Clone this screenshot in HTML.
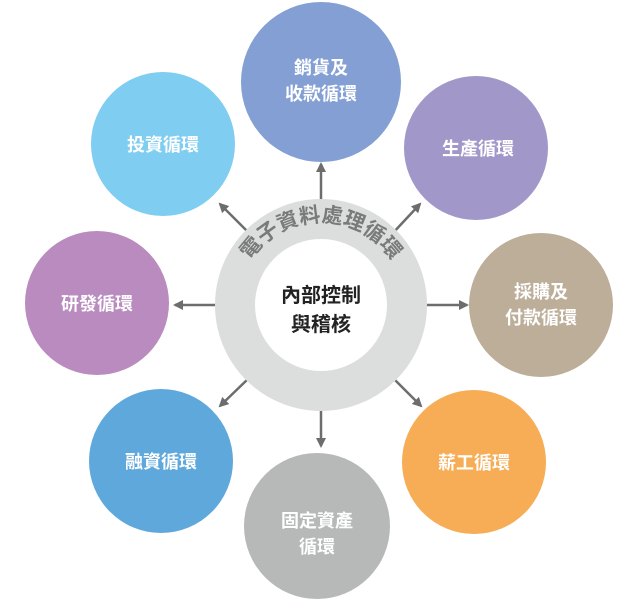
<!DOCTYPE html>
<html><head><meta charset="utf-8"><style>
html,body{margin:0;padding:0;background:#fff;}
svg{display:block;}
text{font-family:"Liberation Sans","Noto Sans CJK TC",sans-serif;}
.w{fill:#fff;font-size:18px;font-weight:bold;text-anchor:middle;}
</style></head><body>
<svg width="617" height="603" viewBox="0 0 617 603" xmlns="http://www.w3.org/2000/svg">
<defs>
<marker id="a" markerWidth="10" markerHeight="10" refX="8" refY="5" orient="auto" markerUnits="userSpaceOnUse" viewBox="0 0 10 10">
<path d="M0,0 L10,5 L0,10 z" fill="#6d6d6d"/></marker>
<path id="arc" d="M 252 354 A 84 84 0 1 1 390 354"/>
</defs>
<g stroke="#6d6d6d" stroke-width="2.5" fill="none">
<line x1="321" y1="205" x2="321" y2="164" marker-end="url(#a)"/>
<line x1="392" y1="234" x2="420" y2="204" marker-end="url(#a)"/>
<line x1="426" y1="305" x2="467" y2="305" marker-end="url(#a)"/>
<line x1="392" y1="377" x2="421" y2="406" marker-end="url(#a)"/>
<line x1="321" y1="405" x2="321" y2="446" marker-end="url(#a)"/>
<line x1="250" y1="377" x2="220" y2="406" marker-end="url(#a)"/>
<line x1="216" y1="305" x2="175" y2="305" marker-end="url(#a)"/>
<line x1="250" y1="234" x2="220" y2="204" marker-end="url(#a)"/>
</g>
<circle cx="321" cy="82" r="80" fill="#839fd3"/>
<circle cx="476" cy="148" r="72" fill="#a297c9"/>
<circle cx="541" cy="305" r="72" fill="#bcae98"/>
<circle cx="474" cy="462" r="72" fill="#f6ad55"/>
<circle cx="317" cy="526" r="73" fill="#b7b8b8"/>
<circle cx="161" cy="461" r="72" fill="#5fa8dc"/>
<circle cx="97" cy="303" r="72" fill="#b98bbf"/>
<circle cx="163" cy="144" r="72" fill="#7fcdf1"/>
<circle cx="321" cy="305" r="86" fill="none" stroke="#dcdddd" stroke-width="40"/>
<text style="font-size:21px;font-weight:bold;fill:#7a7a7a"><textPath href="#arc" startOffset="50%" text-anchor="middle">電子資料處理循環</textPath></text>
<text x="321" y="302" style="font-size:20px;font-weight:bold;fill:#222;text-anchor:middle">內部控制</text>
<text x="321" y="331" style="font-size:20px;font-weight:bold;fill:#222;text-anchor:middle">與稽核</text>
<text class="w" x="321" y="74">銷貨及</text>
<text class="w" x="321" y="100">收款循環</text>
<text class="w" x="478" y="155">生產循環</text>
<text class="w" x="541" y="298">採購及</text>
<text class="w" x="541" y="324">付款循環</text>
<text class="w" x="474" y="469">薪工循環</text>
<text class="w" x="317" y="527">固定資產</text>
<text class="w" x="317" y="553">循環</text>
<text class="w" x="161" y="468">融資循環</text>
<text class="w" x="97" y="310">研發循環</text>
<text class="w" x="163" y="151">投資循環</text>
</svg>
</body></html>
